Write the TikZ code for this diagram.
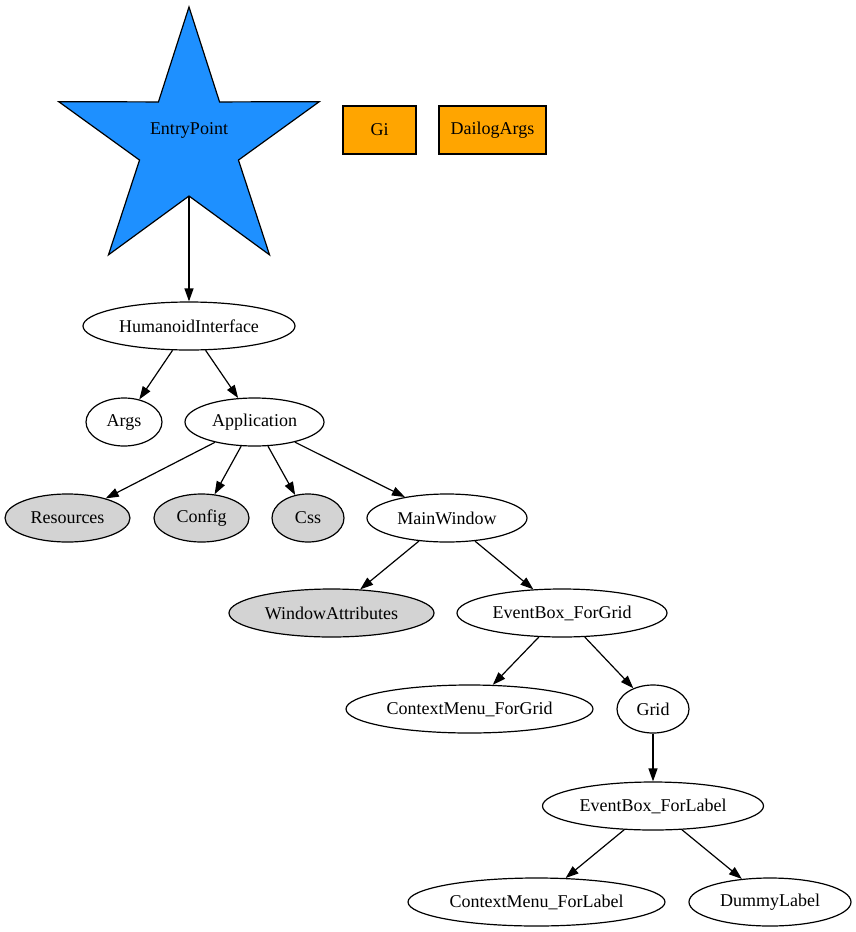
\documentclass[tikz,border=0pt]{standalone}
\usepackage{fontspec}
\setmainfont{Liberation Serif}
\usetikzlibrary{shapes.geometric,arrows.meta,calc}
\definecolor{starblue}{RGB}{30,144,255}
\definecolor{boxorange}{RGB}{255,165,0}
\definecolor{lgray}{RGB}{211,211,211}
\begin{document}
\begin{tikzpicture}[x=1pt,y=-1pt,
  font=\fontsize{18pt}{21pt}\selectfont,
  oval/.style={ellipse,draw,line width=1.2pt,inner sep=0pt,minimum height=48pt},
  grayoval/.style={oval,fill=lgray},
  obox/.style={rectangle,draw,line width=1.2pt,fill=boxorange,inner sep=0pt,minimum height=48pt},
  edge/.style={line width=1.2pt,-{Triangle[length=13pt,width=9pt]}}]
\useasboundingbox (0,0) rectangle (856,932);

% five-pointed star
\coordinate (sc) at (189,144);
\filldraw[fill=starblue,line width=1.2pt,line join=miter]
  ($(sc)+(90:137pt)$) -- ($(sc)+(126:52pt)$) -- ($(sc)+(162:137pt)$) --
  ($(sc)+(198:52pt)$) -- ($(sc)+(234:137pt)$) -- ($(sc)+(270:52pt)$) --
  ($(sc)+(306:137pt)$) -- ($(sc)+(342:52pt)$) -- ($(sc)+(18:137pt)$) --
  ($(sc)+(54:52pt)$) -- cycle;
\node (entry) at (189,130) {EntryPoint};
\coordinate (entrybottom) at ($(sc)+(270:52pt)$);

\node[obox,minimum width=73pt] (gi) at (379.5,130) {Gi};
\node[obox,minimum width=107pt] (dargs) at (492.5,130) {DailogArgs};

\node[oval,minimum width=212pt] (hi) at (189,326) {HumanoidInterface};
\node[oval,minimum width=76pt] (args) at (124,422) {Args};
\node[oval,minimum width=139pt] (app) at (254.5,422) {Application};
\node[grayoval,minimum width=125pt] (res) at (67.5,518) {Resources};
\node[grayoval,minimum width=95pt] (cfg) at (201.5,518) {Config};
\node[grayoval,minimum width=72pt] (css) at (308,518) {Css};
\node[oval,minimum width=160pt] (mw) at (447,518) {MainWindow};
\node[grayoval,minimum width=205pt] (wa) at (331.5,613) {WindowAttributes};
\node[oval,minimum width=210pt] (ebg) at (562,613) {EventBox\_ForGrid};
\node[oval,minimum width=247pt] (cmg) at (469.5,709) {ContextMenu\_ForGrid};
\node[oval,minimum width=72pt] (grid) at (653,709) {Grid};
\node[oval,minimum width=221pt] (ebl) at (653,806) {EventBox\_ForLabel};
\node[oval,minimum width=257pt] (cml) at (536.5,902) {ContextMenu\_ForLabel};
\node[oval,minimum width=162pt] (dl) at (770,902) {DummyLabel};

\draw[edge] (entrybottom) -- (hi);
\draw[edge] (hi) -- (args);
\draw[edge] (hi) -- (app);
\draw[edge] (app) -- (res);
\draw[edge] (app) -- (cfg);
\draw[edge] (app) -- (css);
\draw[edge] (app) -- (mw);
\draw[edge] (mw) -- (wa);
\draw[edge] (mw) -- (ebg);
\draw[edge] (ebg) -- (cmg);
\draw[edge] (ebg) -- (grid);
\draw[edge] (grid) -- (ebl);
\draw[edge] (ebl) -- (cml);
\draw[edge] (ebl) -- (dl);
\end{tikzpicture}
\end{document}
